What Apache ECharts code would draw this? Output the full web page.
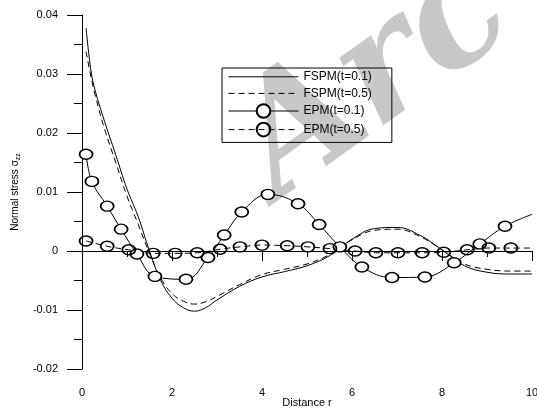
<!DOCTYPE html>
<html>
<head>
<meta charset="utf-8">
<script src="https://cdn.jsdelivr.net/npm/echarts@6/dist/echarts.min.js"></script>
<style>
  html, body { margin: 0; padding: 0; background: #fff; }
  #chart { width: 537px; height: 409px; }
</style>
</head>
<body>
<div id="chart"></div>
<script>
// FSPM curves
const fspmR = [0.09, 0.2, 0.3, 0.5, 0.75, 1.0, 1.25, 1.5, 1.75, 2.0, 2.25, 2.5, 2.75, 3.0, 3.5, 4.0, 4.5, 5.0, 5.5, 6.0, 6.5, 7.0, 7.5, 8.0, 8.5, 9.0, 9.5, 10];
const fspmT01 = [0.0378, 0.0305, 0.0270, 0.0220, 0.0163, 0.0105, 0.0058, 0.0000, -0.0050, -0.0080, -0.0096, -0.0102, -0.0096, -0.0083, -0.0060, -0.0044, -0.0035, -0.0025, -0.0008, 0.0020, 0.0038, 0.0040, 0.0027, 0.0002, -0.0025, -0.0036, -0.0039, -0.0039];
const fspmT05 = [0.0338, 0.0295, 0.0262, 0.0207, 0.0150, 0.0093, 0.0045, -0.0004, -0.0046, -0.0072, -0.0085, -0.0090, -0.0086, -0.0077, -0.0057, -0.0040, -0.0031, -0.0022, -0.0006, 0.0019, 0.0035, 0.0037, 0.0025, 0.0002, -0.0022, -0.0031, -0.0034, -0.0034];

// EPM curves, one marker per point except the last
const epmR01 = [0.09, 0.22, 0.56, 0.87, 1.22, 1.62, 2.31, 2.8, 3.16, 3.55, 4.13, 4.8, 5.27, 5.73, 6.22, 6.89, 7.62, 8.27, 8.84, 9.4, 10];
const epmT01 = [0.0164, 0.0118, 0.0076, 0.0037, -0.0005, -0.0043, -0.0048, -0.0011, 0.0027, 0.0066, 0.0096, 0.0080, 0.0045, 0.0007, -0.0027, -0.0045, -0.0044, -0.0020, 0.0012, 0.0042, 0.0062];
const epmR05 = [0.09, 0.56, 1.04, 1.58, 2.07, 2.56, 3.07, 3.51, 4.0, 4.56, 5.02, 5.51, 6.07, 6.53, 7.02, 7.56, 8.04, 8.56, 9.04, 9.53, 10];
const epmT05 = [0.0017, 0.0008, 0.0002, -0.0004, -0.0004, -0.0003, 0.0003, 0.0007, 0.0010, 0.0009, 0.0007, 0.0004, 0.0000, -0.0003, -0.0003, -0.0003, -0.0002, 0.0002, 0.0005, 0.0005, 0.0005];

const seriesNames = ["FSPM(t=0.1)", "FSPM(t=0.5)", "EPM(t=0.1)", "EPM(t=0.5)"];

const font = "Liberation Sans, Arial, sans-serif";
const pairs = (xs, ys) => xs.map((x, i) => [x, ys[i]]);
const marked = (xs, ys) =>
  xs.map((x, i) => (i === xs.length - 1 ? { value: [x, ys[i]], symbol: "none" } : [x, ys[i]]));

const chart = echarts.init(document.getElementById("chart"));

const axisCommon = {
  axisLine: { lineStyle: { color: "#000", width: 1 } },
  axisTick: { lineStyle: { color: "#000", width: 1 } },
  minorTick: { show: true, splitNumber: 2, lineStyle: { color: "#000", width: 1 } },
  splitLine: { show: false },
  axisLabel: { color: "#000", fontFamily: font, fontSize: 11 },
  nameTextStyle: { color: "#000", fontFamily: font, fontSize: 11 },
  nameMoveOverlap: false,
};

chart.setOption({
  backgroundColor: "#fff",
  animation: false,
  grid: { left: 82, right: 5, top: 15, bottom: 40, outerBoundsMode: "none" },
  graphic: [
    {
      type: "text",
      left: 210,
      top: -68,
      z: -10,
      silent: true,
      rotation: 0.62,
      originX: 0,
      originY: 0,
      style: {
        text: "Arc",
        fill: "#c8c8c8",
        font: "italic bold 155px 'DejaVu Serif', serif",
      },
    },
  ],
  legend: {
    orient: "vertical",
    left: 222,
    top: 68,
    padding: [2, 20, 5, 6],
    itemWidth: 70,
    itemHeight: 17,
    itemGap: 3,
    borderColor: "#000",
    borderWidth: 1,
    selectedMode: false,
    lineStyle: { width: 1 },
    textStyle: { color: "#000", fontFamily: font, fontSize: 12 },
    data: [
      { name: seriesNames[0], itemStyle: { opacity: 0 } },
      { name: seriesNames[1], itemStyle: { opacity: 0 } },
      { name: seriesNames[2] },
      { name: seriesNames[3] },
    ],
  },
  xAxis: {
    ...axisCommon,
    type: "value",
    min: 0,
    max: 10,
    interval: 2,
    name: "Distance r",
    nameLocation: "middle",
    nameGap: 28,
    axisTick: { ...axisCommon.axisTick, length: 10 },
    minorTick: { ...axisCommon.minorTick, length: 6 },
    axisLabel: { ...axisCommon.axisLabel, margin: 18 },
  },
  yAxis: {
    ...axisCommon,
    type: "value",
    min: -0.02,
    max: 0.04,
    interval: 0.01,
    name: "{a|Normal stress σ}{b|zz}",
    nameLocation: "middle",
    nameGap: 60,
    nameTextStyle: {
      ...axisCommon.nameTextStyle,
      rich: {
        a: { fontFamily: font, fontSize: 10, color: "#000", lineHeight: 14 },
        b: { fontFamily: font, fontSize: 7, color: "#000", lineHeight: 14, verticalAlign: "bottom" },
      },
    },
    axisTick: { ...axisCommon.axisTick, length: 15 },
    minorTick: { ...axisCommon.minorTick, length: 8 },
    axisLabel: {
      ...axisCommon.axisLabel,
      margin: 24,
      formatter: (v) => String(+v.toFixed(2)),
    },
  },
  series: [
    {
      name: seriesNames[0],
      type: "line",
      symbol: "none",
      smooth: 0.4,
      lineStyle: { color: "#000", width: 1 },
      itemStyle: { color: "#000" },
      data: pairs(fspmR, fspmT01),
    },
    {
      name: seriesNames[1],
      type: "line",
      symbol: "none",
      smooth: 0.4,
      lineStyle: { color: "#000", width: 1, type: [6, 4] },
      itemStyle: { color: "#000" },
      data: pairs(fspmR, fspmT05),
    },
    {
      name: seriesNames[2],
      type: "line",
      symbol: "circle",
      symbolSize: [13, 10],
      smooth: 0.4,
      lineStyle: { color: "#000", width: 1 },
      itemStyle: { color: "#fff", borderColor: "#000", borderWidth: 1.6 },
      data: marked(epmR01, epmT01),
    },
    {
      name: seriesNames[3],
      type: "line",
      symbol: "circle",
      symbolSize: [13, 10],
      smooth: 0.4,
      lineStyle: { color: "#000", width: 1, type: [6, 4] },
      itemStyle: { color: "rgba(255,255,255,0)", borderColor: "#000", borderWidth: 1.6 },
      data: marked(epmR05, epmT05),
    },
  ],
});
</script>
</body>
</html>
